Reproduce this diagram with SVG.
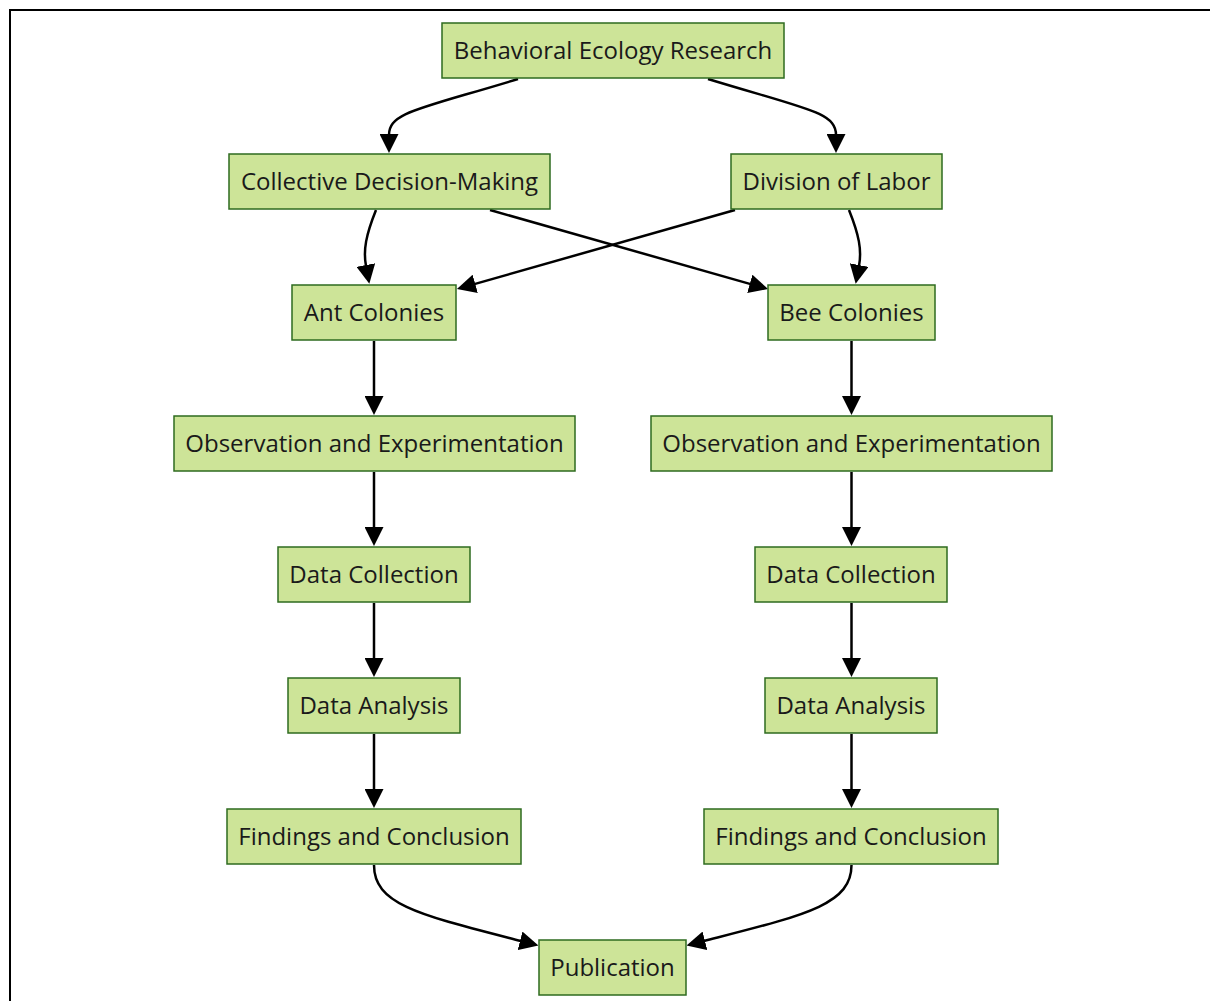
<svg xmlns="http://www.w3.org/2000/svg" width="1210" height="1001" viewBox="0 0 1210 1001">
<style>
.node rect{fill:#cde498;stroke:#2e6b1f;stroke-width:1.5}
.node text{font-family:"Open Sans","Noto Sans","DejaVu Sans",sans-serif;font-size:24px;fill:#1a1a1a;text-anchor:middle;dominant-baseline:central}
.edge{fill:none;stroke:#000;stroke-width:2.5;marker-end:url(#arrow)}
</style>
<defs>
<marker id="arrow" viewBox="0 0 10 10" refX="0.5" refY="5" markerWidth="19" markerHeight="19" markerUnits="userSpaceOnUse" orient="auto">
<path d="M0,0 L10,5 L0,10 z" fill="#000"/>
</marker>
</defs>
<rect x="0" y="0" width="1210" height="1001" fill="#fff"/>
<rect x="10" y="10" width="1220" height="1020" fill="none" stroke="#000" stroke-width="2"/>
<g id="connectors">
<path class="edge" d="M518,79 C420,109 389,112 389,135"/>
<path class="edge" d="M708,79 C806,109 836,112 836,135"/>
<path class="edge" d="M376,210 C366,235 363,250 366,266"/>
<path class="edge" d="M849,210 C859,235 862,250 859,266"/>
<path class="edge" d="M490,210 L750.7,284.1"/>
<path class="edge" d="M735,210 L474.3,284.1"/>
<path class="edge" d="M374,341 L374,397"/>
<path class="edge" d="M374,472 L374,528"/>
<path class="edge" d="M374,603 L374,659"/>
<path class="edge" d="M374,734 L374,790"/>
<path class="edge" d="M851.5,341 L851.5,397"/>
<path class="edge" d="M851.5,472 L851.5,528"/>
<path class="edge" d="M851.5,603 L851.5,659"/>
<path class="edge" d="M851.5,734 L851.5,790"/>
<path class="edge" d="M374,865 C374,905 420,915 521,941"/>
<path class="edge" d="M851.5,865 C851.5,905 805,915 704,941"/>
</g>
<g id="n1" class="node"><rect x="442" y="23" width="342" height="55"/><text x="613" y="49.5">Behavioral Ecology Research</text></g>
<g id="n2" class="node"><rect x="229" y="154" width="321" height="55"/><text x="389.5" y="180.5">Collective Decision-Making</text></g>
<g id="n3" class="node"><rect x="731" y="154" width="211" height="55"/><text x="836.5" y="180.5">Division of Labor</text></g>
<g id="n4" class="node"><rect x="292" y="285" width="164" height="55"/><text x="374" y="311.5">Ant Colonies</text></g>
<g id="n5" class="node"><rect x="768" y="285" width="167" height="55"/><text x="851.5" y="311.5">Bee Colonies</text></g>
<g id="n6" class="node"><rect x="174" y="416" width="401" height="55"/><text x="374.5" y="442.5">Observation and Experimentation</text></g>
<g id="n7" class="node"><rect x="651" y="416" width="401" height="55"/><text x="851.5" y="442.5">Observation and Experimentation</text></g>
<g id="n8" class="node"><rect x="278" y="547" width="192" height="55"/><text x="374" y="573.5">Data Collection</text></g>
<g id="n9" class="node"><rect x="755" y="547" width="192" height="55"/><text x="851" y="573.5">Data Collection</text></g>
<g id="n10" class="node"><rect x="288" y="678" width="172" height="55"/><text x="374" y="704.5">Data Analysis</text></g>
<g id="n11" class="node"><rect x="765" y="678" width="172" height="55"/><text x="851" y="704.5">Data Analysis</text></g>
<g id="n12" class="node"><rect x="227" y="809" width="294" height="55"/><text x="374" y="835.5">Findings and Conclusion</text></g>
<g id="n13" class="node"><rect x="704" y="809" width="294" height="55"/><text x="851" y="835.5">Findings and Conclusion</text></g>
<g id="n14" class="node"><rect x="539" y="940" width="147" height="55"/><text x="612.5" y="966.5">Publication</text></g>
</svg>
